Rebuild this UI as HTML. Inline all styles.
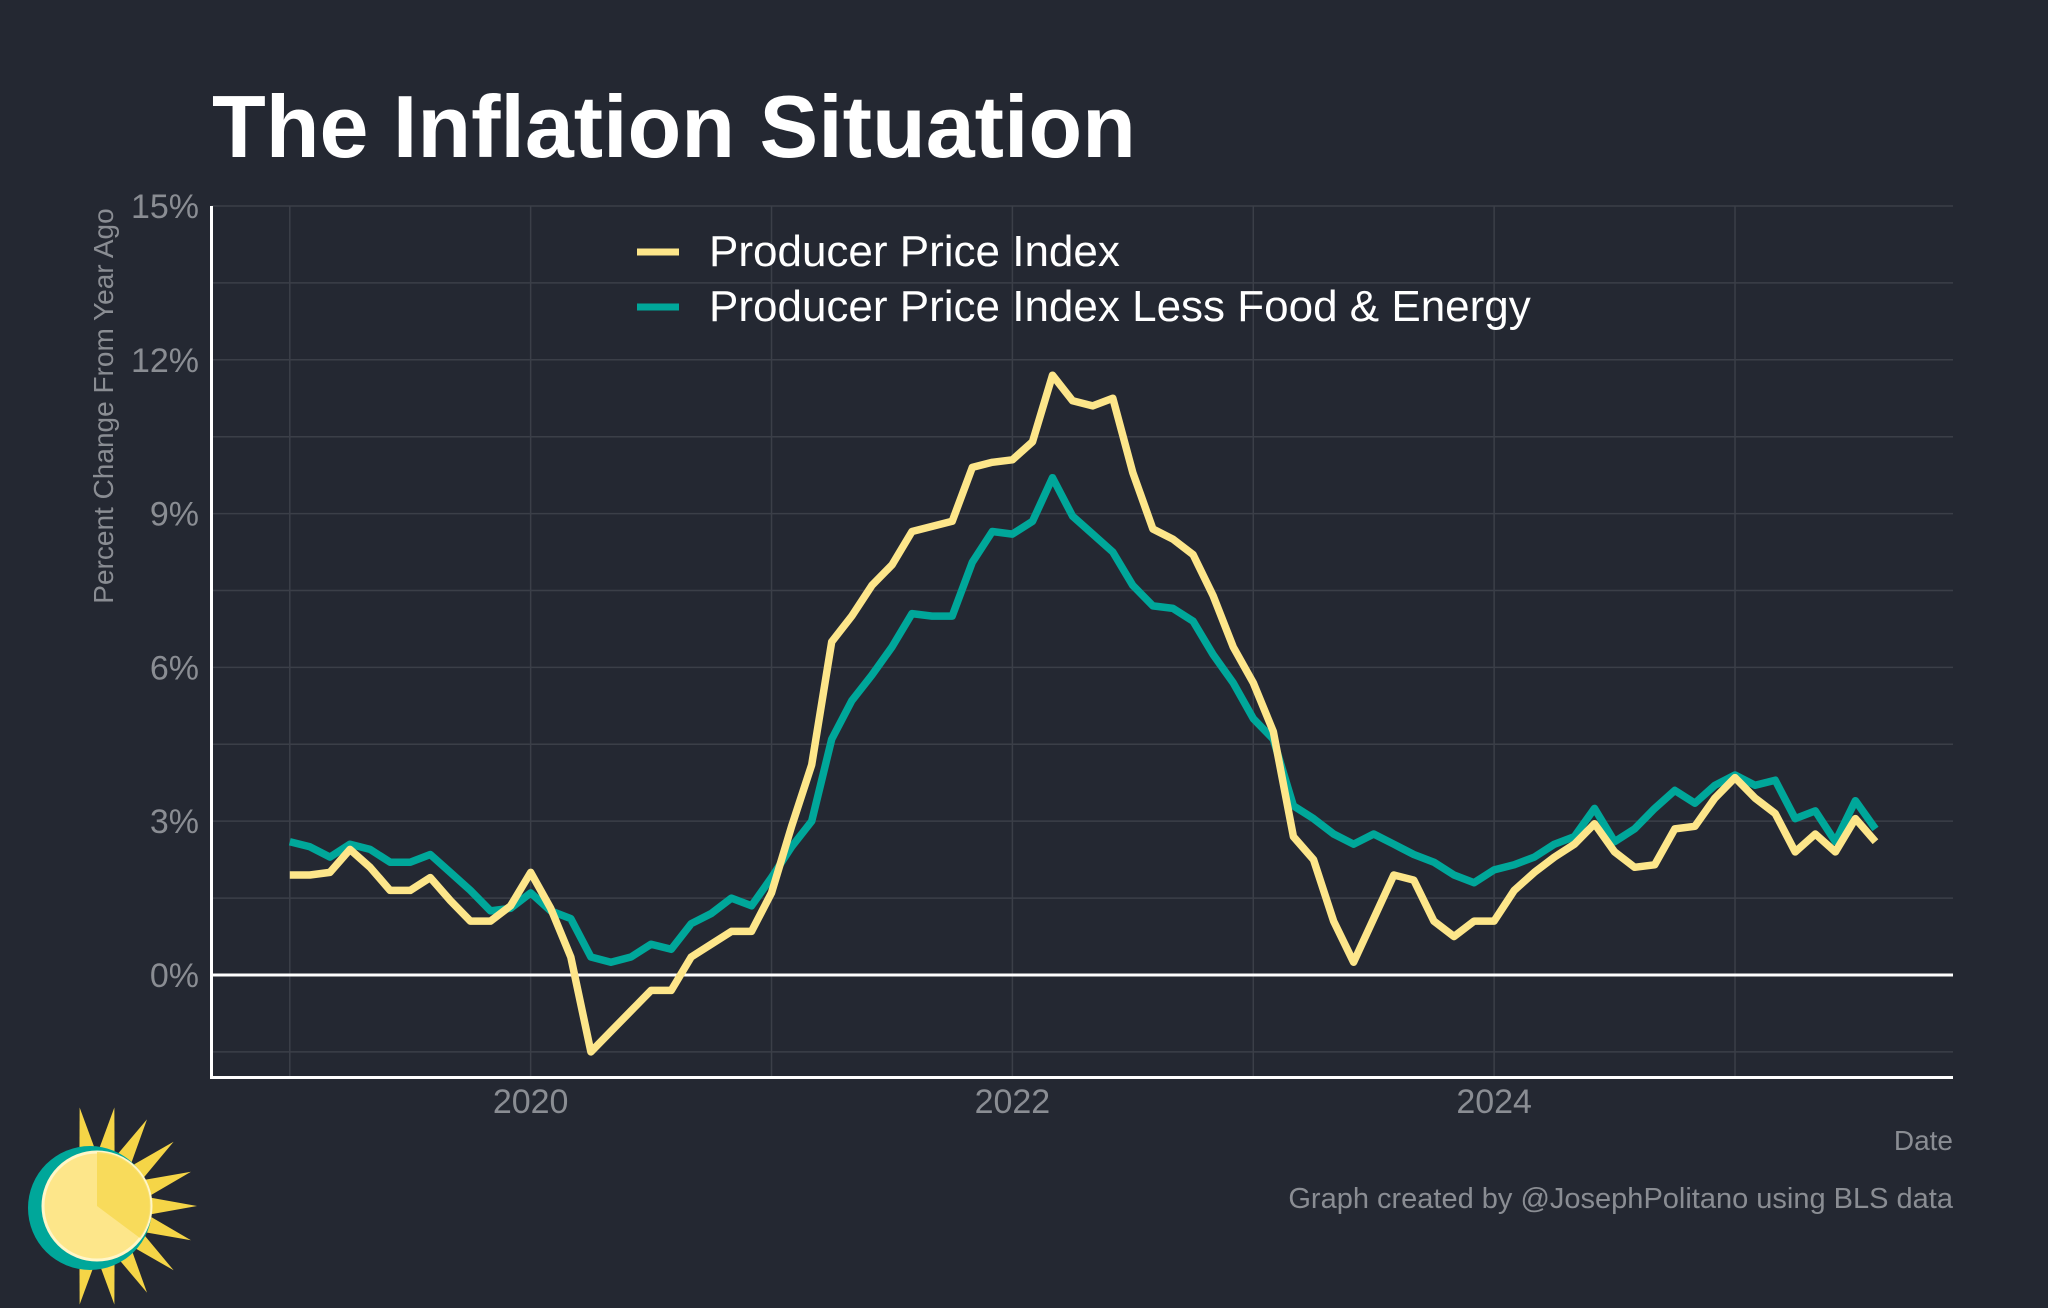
<!DOCTYPE html>
<html><head><meta charset="utf-8"><style>
body{margin:0;background:#242832;}
svg{display:block;font-family:"Liberation Sans",sans-serif;}
</style></head><body>
<svg id="chart" width="2048" height="1308" viewBox="0 0 2048 1308">
<rect width="2048" height="1308" fill="#242832"/>
<text x="212" y="157" font-size="88" font-weight="bold" fill="#ffffff">The Inflation Situation</text>
<g id="grid"></g>
<g id="yticks"></g>
<g id="xticks"></g>
<text transform="translate(113,406) rotate(-90)" text-anchor="middle" font-size="28" fill="#8a8d93">Percent Change From Year Ago</text>
<g id="series"></g>
<line x1="211.5" y1="206" x2="211.5" y2="1078" stroke="#fff" stroke-width="3"/>
<line x1="210" y1="1077.5" x2="1953" y2="1077.5" stroke="#fff" stroke-width="3"/>
<text x="1953" y="1150" text-anchor="end" font-size="28" fill="#8a8d93">Date</text>
<text x="1953" y="1208" text-anchor="end" font-size="29" fill="#8a8d93">Graph created by @JosephPolitano using BLS data</text>
<g>
<line x1="637" y1="252" x2="679" y2="252" stroke="#fde68a" stroke-width="7"/>
<text x="709" y="266" font-size="44" fill="#fff">Producer Price Index</text>
<line x1="637" y1="307" x2="679" y2="307" stroke="#00a79a" stroke-width="7"/>
<text x="709" y="321" font-size="44" fill="#fff">Producer Price Index Less Food &amp; Energy</text>
</g>
<g>
<g fill="#f5d547" id="rays"></g>
<circle cx="90" cy="1208" r="62" fill="#00a79a"/>
<circle cx="97" cy="1206" r="54" fill="#fde68a" stroke="#fff6c8" stroke-width="3"/>
<path d="M97 1206 L97 1152 A54 54 0 0 1 140 1238 Z" fill="#f5d547" opacity="0.7"/>
</g>
</svg>
<script>
const ppi=[1.95,1.95,2.0,2.45,2.1,1.65,1.65,1.9,1.45,1.05,1.05,1.35,
2.0,1.3,0.35,-1.5,-1.1,-0.7,-0.3,-0.3,0.35,0.6,0.85,0.85,
1.6,2.9,4.1,6.5,7.0,7.6,8.0,8.65,8.75,8.85,9.9,10.0,
10.05,10.4,11.7,11.2,11.1,11.25,9.8,8.7,8.5,8.2,7.4,6.4,
5.7,4.75,2.7,2.25,1.05,0.25,1.1,1.95,1.85,1.05,0.75,1.05,
1.05,1.65,2.0,2.3,2.55,2.95,2.4,2.1,2.15,2.85,2.9,3.45,
3.85,3.45,3.15,2.4,2.75,2.4,3.05,2.6];
const core=[2.6,2.5,2.3,2.55,2.45,2.2,2.2,2.35,2.0,1.65,1.25,1.3,
1.6,1.25,1.1,0.35,0.25,0.35,0.6,0.5,1.0,1.2,1.5,1.35,
1.9,2.5,3.0,4.6,5.35,5.85,6.4,7.05,7.0,7.0,8.05,8.65,
8.6,8.85,9.7,8.95,8.6,8.25,7.6,7.2,7.15,6.9,6.25,5.7,
5.0,4.6,3.3,3.05,2.75,2.55,2.75,2.55,2.35,2.2,1.95,1.8,
2.05,2.15,2.3,2.55,2.7,3.25,2.6,2.85,3.25,3.6,3.35,3.7,
3.9,3.7,3.8,3.05,3.2,2.6,3.4,2.85];
const yTicks=[0,3,6,9,12,15];
const yTickLabels=["0%","3%","6%","9%","12%","15%"];
const xTicks=[2020,2022,2024];
const NS="http://www.w3.org/2000/svg";
const X0=211.5,X1=1953,Y0=206,Y1=1077.5,xmin=2018.675,xmax=2025.905,ymin=-2,ymax=15;
const xs=t=>X0+(t-xmin)/(xmax-xmin)*(X1-X0);
const ys=v=>Y1-(v-ymin)/(ymax-ymin)*(Y1-Y0);
function mk(tag,attrs,parent){const e=document.createElementNS(NS,tag);for(const k in attrs)e.setAttribute(k,attrs[k]);parent.appendChild(e);return e;}
const grid=document.getElementById('grid');
for(let v=-1.5;v<=15;v+=1.5){const l=mk('line',{x1:X0,x2:X1,y1:ys(v),y2:ys(v),stroke:'#3b3f48','stroke-width':1.5},grid);

}
for(let yr=2019;yr<=2025;yr++){const l=mk('line',{x1:xs(yr),x2:xs(yr),y1:Y0,y2:Y1,stroke:'#3b3f48','stroke-width':1.5},grid);

}
const zl=mk('line',{x1:X0,x2:X1,y1:ys(0),y2:ys(0),stroke:'#fff','stroke-width':3},grid);


const yt=document.getElementById('yticks');
yTicks.forEach((v,i)=>{const t=mk('text',{x:199,y:ys(v)+12,'text-anchor':'end','font-size':34,fill:'#8a8d93'},yt);t.textContent=yTickLabels[i];

});
const xt=document.getElementById('xticks');
xTicks.forEach(v=>{const t=mk('text',{x:xs(v),y:1113,'text-anchor':'middle','font-size':34,fill:'#8a8d93'},xt);t.textContent=v;

});
const sg=document.getElementById('series');
function line(data,color,name){const d=data.map((v,i)=>(i?'L':'M')+xs(2019+i/12).toFixed(1)+' '+ys(v).toFixed(1)).join(' ');
const p=mk('path',{d:d,fill:'none',stroke:color,'stroke-width':7.5,'stroke-linejoin':'round'},sg);

}
line(core,'#00a79a','core-ppi-line');
line(ppi,'#fde68a','ppi-line');
const rays=document.getElementById('rays');
for(let a=-100;a<=100;a+=20){const r=(a*Math.PI)/180,c=[97,1206];
const tip=[c[0]+100*Math.cos(r),c[1]+100*Math.sin(r)],b1=[c[0]+52*Math.cos(r-0.17),c[1]+52*Math.sin(r-0.17)],b2=[c[0]+52*Math.cos(r+0.17),c[1]+52*Math.sin(r+0.17)];
mk('polygon',{points:`${tip} ${b1} ${b2}`},rays);}
</script>
</body></html>
